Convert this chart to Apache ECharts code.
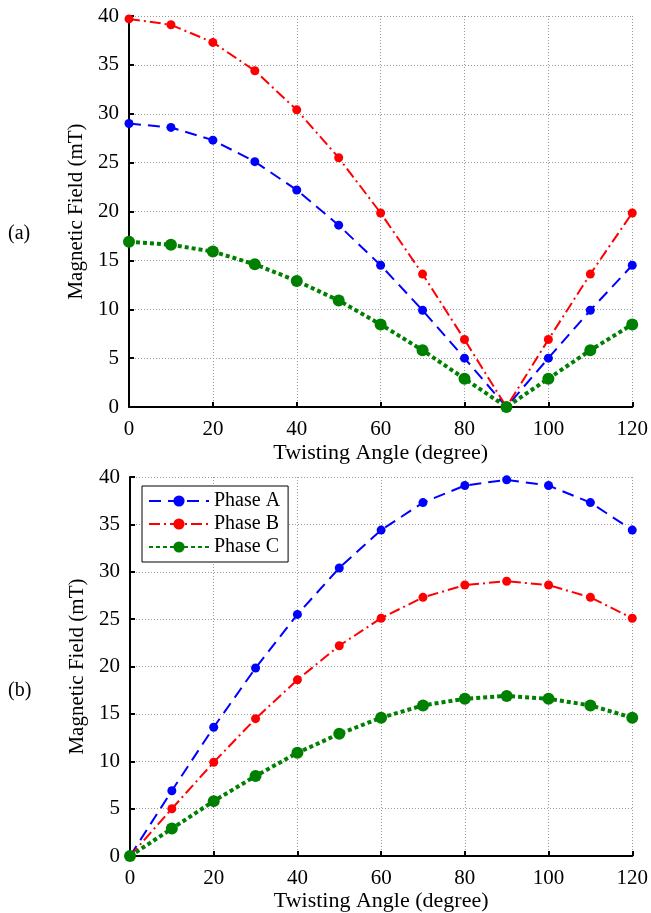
<!DOCTYPE html>
<html>
<head>
<meta charset="utf-8">
<script src="https://cdn.jsdelivr.net/npm/echarts@6/dist/echarts.min.js"></script>
<style>html,body{margin:0;padding:0;background:#fff}#c{width:651px;height:913px}</style>
</head>
<body>
<div id="c"></div>
<script>
const angles = [0, 10, 20, 30, 40, 50, 60, 70, 80, 90, 100, 110, 120];
// panel (a)
const aPhaseA = [29.0, 28.6, 27.3, 25.1, 22.2, 18.6, 14.5, 9.9, 5.0, 0, 5.0, 9.9, 14.5];
const aPhaseB = [39.7, 39.1, 37.3, 34.4, 30.4, 25.5, 19.85, 13.6, 6.9, 0, 6.9, 13.6, 19.85];
const aPhaseC = [16.9, 16.6, 15.9, 14.6, 12.9, 10.9, 8.45, 5.8, 2.9, 0, 2.9, 5.8, 8.45];
// panel (b)
const bPhaseA = [0, 6.9, 13.6, 19.85, 25.5, 30.4, 34.4, 37.3, 39.1, 39.7, 39.1, 37.3, 34.4];
const bPhaseB = [0, 5.0, 9.9, 14.5, 18.6, 22.2, 25.1, 27.3, 28.6, 29.0, 28.6, 27.3, 25.1];
const bPhaseC = [0, 2.9, 5.8, 8.45, 10.9, 12.9, 14.6, 15.9, 16.6, 16.9, 16.6, 15.9, 14.6];
const seriesNames = ['Phase A', 'Phase B', 'Phase C'];
const xTitle = 'Twisting Angle (degree)';
const yTitle = 'Magnetic Field (mT)';
const panelLabels = ['(a)', '(b)'];

const FONT = 'Liberation Serif';
const pair = arr => angles.map((a, i) => [a, arr[i]]);

const styles = [
  {color: '#0000ff', type: [12, 7], width: 2, size: 9},
  {color: '#ff0000', type: [11, 4, 2, 4], width: 2, size: 9},
  {color: '#008000', type: [4, 3], width: 4, size: 12}
];

function mkSeries(data, idx, gi) {
  const s = styles[idx];
  return {
    name: seriesNames[idx], type: 'line', xAxisIndex: gi, yAxisIndex: gi,
    data: pair(data), symbol: 'circle', symbolSize: s.size, showSymbol: true,
    lineStyle: {color: s.color, type: s.type, width: s.width},
    itemStyle: {color: s.color}, animation: false, z: 2 + idx
  };
}

function xAx(gi, gap) {
  return {
    gridIndex: gi, type: 'value', min: 0, max: 120, interval: 20,
    name: xTitle, nameLocation: 'middle', nameGap: gap,
    nameTextStyle: {fontFamily: FONT, fontSize: 22, color: '#000'},
    axisLine: {show: true, onZero: false, lineStyle: {color: '#000', width: 2}},
    axisTick: {show: true, inside: true, length: 5, lineStyle: {color: '#000', width: 2}},
    axisLabel: {fontFamily: FONT, fontSize: 21, color: '#000', margin: 12},
    splitLine: {show: true, lineStyle: {color: '#999', type: [1, 2], width: 1}}
  };
}
function yAx(gi) {
  return {
    gridIndex: gi, type: 'value', min: 0, max: 40, interval: 5,
    name: yTitle, nameLocation: 'middle', nameGap: 41,
    nameTextStyle: {fontFamily: FONT, fontSize: 21, color: '#000'},
    axisLine: {show: true, onZero: false, lineStyle: {color: '#000', width: 2}},
    axisTick: {show: true, inside: true, length: 5, lineStyle: {color: '#000', width: 2}},
    axisLabel: {fontFamily: FONT, fontSize: 21, color: '#000', margin: 10},
    splitLine: {show: true, lineStyle: {color: '#999', type: [1, 2], width: 1}}
  };
}

const chart = echarts.init(document.getElementById('c'), null, {renderer: 'canvas'});
chart.setOption({
  backgroundColor: '#fff',
  animation: false,
  grid: [
    {left: 129, width: 506, top: 16, height: 391},
    {left: 130, width: 504, top: 477, height: 381}
  ],
  xAxis: [xAx(0, 35), xAx(1, 28)],
  yAxis: [yAx(0), yAx(1)],
  legend: {
    data: seriesNames, orient: 'vertical', left: 142, top: 486,
    itemWidth: 60, itemHeight: 14, itemGap: 3,
    padding: [5, 8, 5, 6],
    backgroundColor: '#fff', borderColor: '#000', borderWidth: 1,
    textStyle: {fontFamily: FONT, fontSize: 20, color: '#000'}
  },
  graphic: [
    {type: 'text', left: 8, top: 224, style: {text: panelLabels[0], font: '20px "Liberation Serif"', fill: '#000'}},
    {type: 'text', left: 8, top: 681, style: {text: panelLabels[1], font: '20px "Liberation Serif"', fill: '#000'}}
  ],
  series: [
    mkSeries(aPhaseA, 0, 0), mkSeries(aPhaseB, 1, 0), mkSeries(aPhaseC, 2, 0),
    mkSeries(bPhaseA, 0, 1), mkSeries(bPhaseB, 1, 1), mkSeries(bPhaseC, 2, 1)
  ]
});
</script>
</body>
</html>
